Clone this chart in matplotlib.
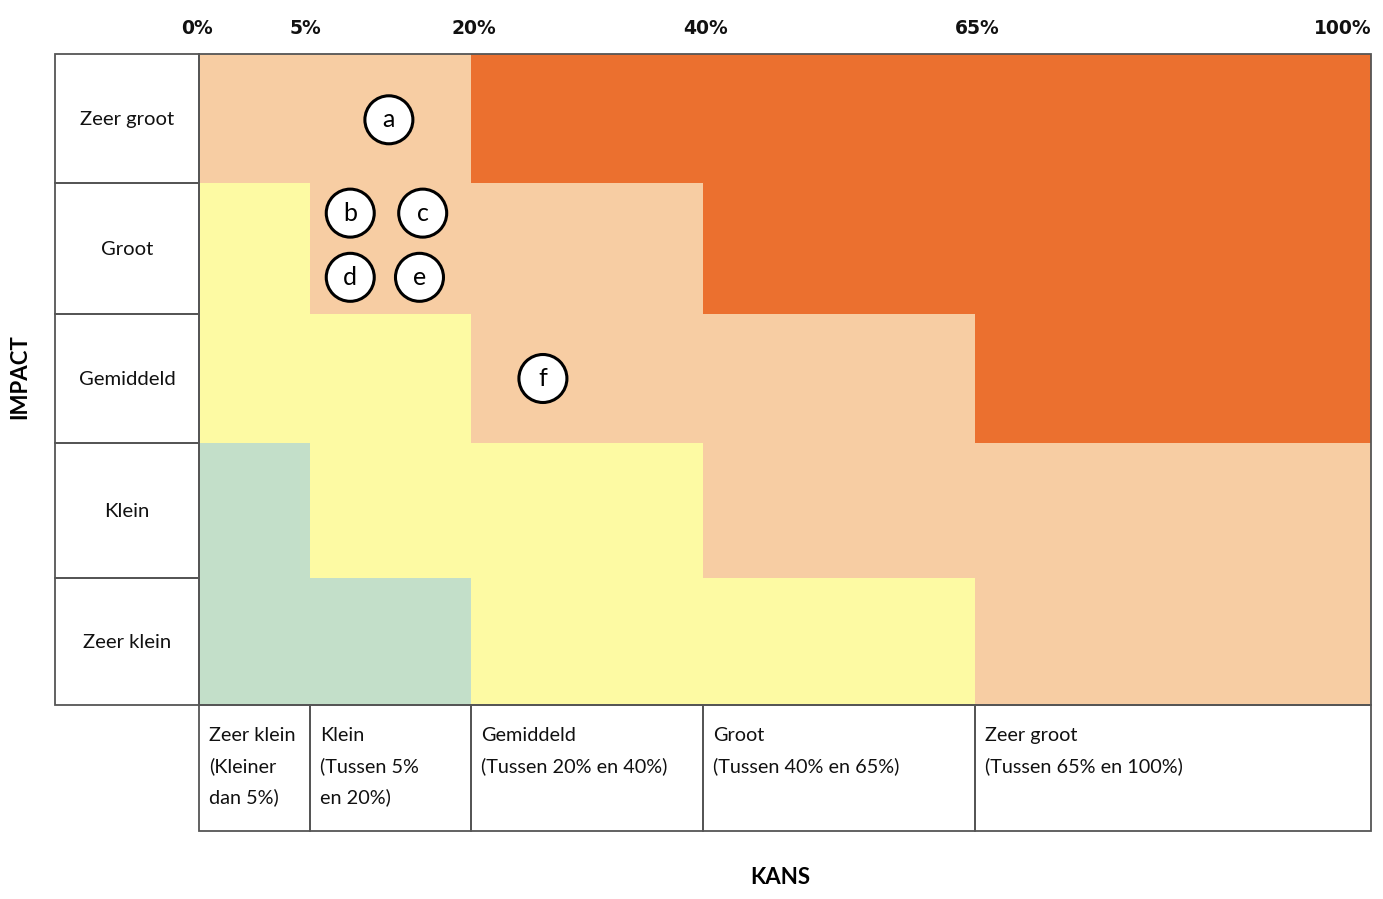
import matplotlib.pyplot as plt
from matplotlib.patches import Rectangle, Circle
import numpy as np

plt.rcParams['font.family'] = ['Lato', 'DejaVu Sans']

# data
impact_labels = ["Zeer groot", "Groot", "Gemiddeld", "Klein", "Zeer klein"]
kans_labels = ["Zeer klein\n(Kleiner\ndan 5%)",
               "Klein\n(Tussen 5%\nen 20%)",
               "Gemiddeld\n(Tussen 20% en 40%)",
               "Groot\n(Tussen 40% en 65%)",
               "Zeer groot\n(Tussen 65% en 100%)"]
pct_labels = ["0%", "5%", "20%", "40%", "65%", "100%"]

# risk level per cell, rows top (zeer groot) to bottom, columns left to right
risk = [[2, 2, 3, 3, 3],
        [1, 2, 2, 3, 3],
        [1, 1, 2, 2, 3],
        [0, 1, 1, 2, 2],
        [0, 0, 1, 1, 2]]

# risks placed in the matrix (column, row in grid units)
risk_ids = ["a", "b", "c", "d", "e", "f"]
risk_col = [1.49, 1.25, 1.70, 1.25, 1.68, 2.31]
risk_row = [0.51, 1.23, 1.23, 1.72, 1.72, 2.50]

level_colors = ["#c3dfc9", "#fdfaa3", "#f7cda3", "#eb702f"]

# layout (pixels)
col_x = np.array([199, 310, 471, 703, 975, 1371])
row_y = np.array([54, 183, 314, 443, 578, 705])
pct_x = [197, 305, 474, 706, 977, 1372]
lab_left = 55
bottom_y = 831
edge = "#555555"

fig = plt.figure(figsize=(13.83, 8.99), dpi=100)
ax = fig.add_axes([0, 0, 1, 1])
ax.set_xlim(0, 1383)
ax.set_ylim(899, 0)
ax.axis("off")

# coloured cells
for r in range(5):
    for c in range(5):
        ax.add_patch(Rectangle((col_x[c], row_y[r]), col_x[c+1]-col_x[c],
                               row_y[r+1]-row_y[r],
                               facecolor=level_colors[risk[r][c]],
                               edgecolor="none"))

# outline of the coloured area
ax.add_patch(Rectangle((col_x[0], row_y[0]), col_x[-1]-col_x[0],
                       row_y[-1]-row_y[0], fill=False, edgecolor=edge, lw=1.3))

# impact label boxes
for r, lab in enumerate(impact_labels):
    ax.add_patch(Rectangle((lab_left, row_y[r]), col_x[0]-lab_left,
                           row_y[r+1]-row_y[r], fill=False,
                           edgecolor=edge, lw=1.3))
    ax.text((lab_left+col_x[0])/2, (row_y[r]+row_y[r+1])/2 + 1, lab,
            ha="center", va="center", fontsize=14.6, color="#111111")

# kans label boxes
for c, lab in enumerate(kans_labels):
    ax.add_patch(Rectangle((col_x[c], row_y[-1]), col_x[c+1]-col_x[c],
                           bottom_y-row_y[-1], fill=False,
                           edgecolor=edge, lw=1.3))
    ax.text(col_x[c]+10, row_y[-1]+22, lab, ha="left", va="top",
            fontsize=14.3, color="#111111", linespacing=1.89)

# percentage scale
for i, p in enumerate(pct_labels):
    ha = "right" if i == len(pct_labels)-1 else "center"
    ax.text(pct_x[i], 29, p, ha=ha, va="center", fontsize=13.5,
            fontweight="bold", family="DejaVu Sans", color="#111111")

# risk bubbles
px = np.interp(risk_col, np.arange(6), col_x)
py = np.interp(risk_row, np.arange(6), row_y)
for lab, x, y in zip(risk_ids, px, py):
    ax.add_patch(Circle((x, y), 24, facecolor="white",
                        edgecolor="black", lw=2.2, zorder=3))
    ax.text(x, y, lab, ha="center", va="center", fontsize=18, zorder=4)

ax.text(20, (row_y[0]+row_y[-1])/2 - 3, "IMPACT", rotation=90, ha="center",
        va="center", rotation_mode="anchor", fontsize=16, fontweight="bold")
ax.text(780, 877, "KANS", ha="center", va="center", fontsize=16,
        fontweight="bold")

fig.savefig("out.png", dpi=100)
